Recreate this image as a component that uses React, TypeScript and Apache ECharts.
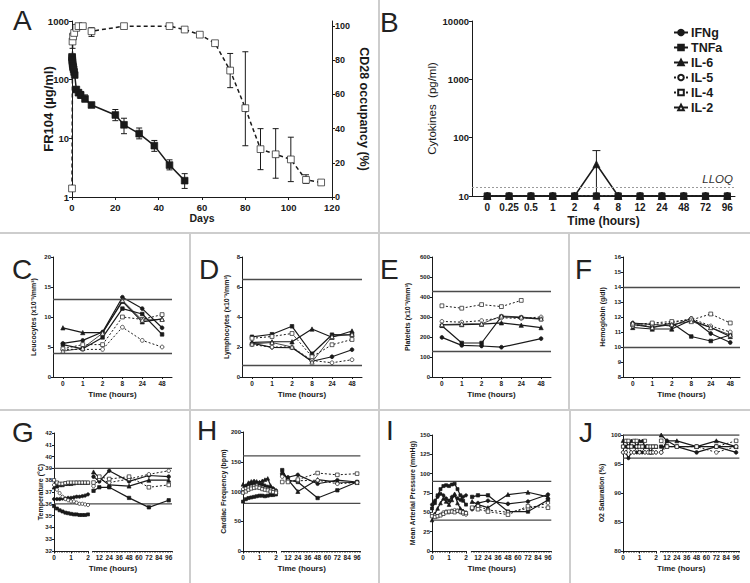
import React, { useEffect, useRef } from 'react';
import * as echarts from 'echarts';

// ---------------- Panel A ----------------
const fr104Days = [0.04, 0.08, 0.13, 0.21, 0.29, 0.42, 0.58, 0.75, 1, 1.25, 2, 3, 4, 6, 9, 20, 24, 31, 38, 45, 52];
const fr104Conc = [245, 235, 215, 200, 185, 170, 160, 150, 135, 120, 68, 60, 55, 47, 37, 25, 17, 12, 7.5, 3.5, 1.9];
const fr104ErrDays = [2, 3, 4, 6, 9, 20, 24, 31, 38, 45, 52];
const fr104ErrLow = [62, 54, 48, 42, 34, 20, 12, 9.8, 6, 2.9, 1.4];
const fr104ErrHigh = [75, 67, 63, 55, 40, 31, 22, 15, 9.2, 4.3, 2.5];

const cd28Days = [0, 0.25, 0.5, 1, 2, 3, 5, 9, 24, 45, 52, 59, 66, 73, 80, 87, 94, 101, 108, 115];
const cd28Occ = [5, 91, 94, 96, 99, 100, 100, 97, 100, 100, 98, 95, 90, 74, 52, 28, 25, 22, 10, 8.5];
const cd28ErrDays = [0.25, 9, 73, 80, 87, 94, 101, 108];
const cd28ErrLow = [87, 94, 64, 30, 16, 11, 9, 8];
const cd28ErrHigh = [95, 99, 84, 85, 40, 40, 35, 13];
const cd28Ticks = [0, 20, 40, 60, 80, 100];

// ---------------- Panel B ----------------
const bTimes = ['0', '0.25', '0.5', '1', '2', '4', '8', '12', '24', '48', '72', '96'];
const bIFNg = [10, 10, 10, 10, 10, 10, 10, 10, 10, 10, 10, 10];
const bTNFa = [10, 10, 10, 10, 10, 10, 10, 10, 10, 10, 10, 10];
const bIL6 = [10, 10, 10, 10, 10, 35, 10, 10, 10, 10, 10, 10];
const bIL5 = [10, 10, 10, 10, 10, 10, 10, 10, 10, 10, 10, 10];
const bIL4 = [10, 10, 10, 10, 10, 10, 10, 10, 10, 10, 10, 10];
const bIL2 = [10, 10, 10, 10, 10, 10, 10, 10, 10, 10, 10, 10];
const bIL6ErrIdx = [5];
const bIL6ErrLow = [10];
const bIL6ErrHigh = [60];
const lloq = 14;
const legendNames = ['IFNg', 'TNFa', 'IL-6', 'IL-5', 'IL-4', 'IL-2'];

// ---------------- Panels C-F ----------------
const cfTimes = ['0', '1', '2', '8', '24', '48'];
const leuco = [
  [5.6, 6.1, 7.5, 13.3, 11.4, 8.2],
  [5.4, 4.7, 6.6, 11.4, 10.5, 7.1],
  [8.2, 7.4, 7.4, 12.6, 9.2, 9.7],
  [4.6, 4.6, 4.6, 8.3, 6.1, 5.0],
  [4.7, 5.4, 5.4, 10.0, 9.6, 10.4],
  [4.3, 4.8, 7.3, 12.8, 9.5, 9.6],
];
const leucoRefs = [13, 4];
const lympho = [
  [2.25, 1.98, 1.95, 1.05, 1.35, 1.82],
  [2.68, 2.85, 3.38, 1.55, 2.82, 2.8],
  [2.3, 2.35, 2.35, 3.2, 2.65, 3.07],
  [2.15, 2.0, 2.0, 1.1, 0.95, 1.15],
  [2.58, 2.7, 2.9, 1.35, 2.15, 2.5],
  [2.2, 2.3, 2.0, 1.0, 2.7, 2.85],
];
const lymphoRefs = [6.5, 0.8];
const platelets = [
  [198, 158, 155, 149, null, 192],
  [256, 170, 170, 302, 297, 289],
  [260, 262, 264, 271, 259, 247],
  [278, 274, 282, 296, 293, 300],
  [356, 344, 362, 352, 383, null],
  [262, 265, 266, 305, 300, 291],
];
const plateletRefs = [430, 130];
const hemoglobin = [
  [11.6, 11.5, 11.4, 11.9, 10.9, 10.3],
  [11.5, 11.3, 11.6, 10.7, 10.4, 10.8],
  [11.3, 11.2, 11.2, 11.8, 11.3, 10.7],
  [11.4, 11.5, 11.6, 11.9, 11.4, 11.0],
  [11.5, 11.6, 11.7, 11.8, 12.2, 11.6],
  [11.6, 11.3, 11.5, 11.7, 11.3, 10.8],
];
const hemoRefs = [14, 10];

// ---------------- Panels G-J ----------------
const earlyTimes = [0, 0.17, 0.33, 0.5, 0.67, 0.83, 1, 1.17, 1.33, 1.5, 1.67, 1.83, 2];
const lateTimes = [5, 12, 24, 48, 72, 96];
const lateTickLabels = [12, 24, 36, 48, 60, 72, 84, 96];

const tempEarly = [
  [36.4, 36.4, 36.4, 36.45, 36.45, 36.5, 36.5, 36.55, 36.6, 36.6, 36.65, 36.7, 36.8],
  [35.8, 35.6, 35.45, 35.35, 35.25, 35.2, 35.15, 35.1, 35.1, 35.05, 35.05, 35.05, 35.1],
  [37.4, 37.5, 37.6, 37.6, 37.7, 37.7, 37.7, 37.75, 37.8, 37.8, 37.8, 37.8, 37.8],
  [37.6, 37.2, 36.9, 36.6, 36.4, 36.3, 36.2, 36.2, 36.1, 36.0, 36.0, 35.95, 35.9],
  [38.0, 37.8, 37.7, 37.7, 37.75, 37.8, 37.8, 37.8, 37.8, 37.8, 37.8, 37.8, 37.8],
];
const tempLate = [
  [38.3, 37.9, 38.8, 37.9, 38.4, 38.3],
  [37.1, 37.4, 37.4, 36.5, 35.7, 36.3],
  [38.7, 38.2, 37.6, 37.5, 38.0, 38.0],
  [37.5, 38.1, 37.8, 38.1, 38.5, 38.8],
  [37.8, 38.3, 38.1, 38.3, 37.4, 37.6],
];
const tempRefs = [39, 36];

const hrEarly = [
  [100, 108, 110, 112, 113, 110, 111, 112, 110, 108, 107, 105, 102],
  [83, 87, 89, 90, 91, 92, 93, 93, 92, 93, 94, 94, 95],
  [112, 110, 115, 117, 118, 117, 116, 118, 120, 122, 110, 105, 100],
  [104, 105, 107, 108, 109, 110, 108, 106, 105, 104, 103, 102, 100],
  [98, 100, 103, 105, 106, 107, 106, 104, 103, 102, 100, 99, 98],
];
const hrLate = [
  [128, 124, 128, 113, 119, 116],
  [136, 119, 116, 89, 102, 116],
  [133, 120, 100, 120, 116, 115],
  [125, 118, 118, 119, 113, 115],
  [116, 116, 120, 131, 128, 130],
];
const hrRefs = [160, 80];

const mapEarly = [
  [60, 65, 70, 74, 72, 68, 65, 70, 72, 68, 66, 70, 72],
  [55, 62, 72, 80, 84, 85, 84, 86, 87, 80, 72, 65, 60],
  [40, 48, 55, 62, 68, 64, 60, 66, 74, 62, 55, 52, 50],
  [48, 46, 45, 47, 50, 51, 50, 52, 53, 52, 50, 48, 47],
  [45, 44, 45, 46, 48, 50, 51, 51, 50, 52, 51, 50, 49],
];
const mapLate = [
  [54, 62, 65, 61, 64, 73],
  [70, 72, 72, 51, 51, 66],
  [64, 60, 56, 73, 76, 70],
  [55, 58, 53, 50, 55, 62],
  [56, 54, 51, 47, 58, 56],
];
const mapRefs = [90, 40];

const o2Early = [
  [97, 97, 96, 97, 97, 97, 97, 97, 97, 97, 97, 97, 97],
  [98, 98, 98, 98, 98, 98, 98, 98, 98, 98, 98, 98, 98],
  [99, 99, 98, 99, 99, 98, 99, 99, 98, 98, 97, 98, 98],
  [97, 97, 98, 97, 97, 98, 97, 98, 97, 97, 97, 97, 97],
  [98, 99, 99, 98, 99, 99, 98, 98, 99, 98, 98, 98, 98],
];
const o2Late = [
  [97, 99, 98, 97, 98, 97],
  [98, 98, 98, 98, 98, 98],
  [100, 99, 99, 98, 99, 98],
  [97, 98, 98, 98, 97, 98],
  [99, 98, 98, 98, 98, 99],
];
const o2Refs = [100, 96];

// ---------------- styling ----------------
const FONT = '"Liberation Sans", Arial, Helvetica, sans-serif';
const INK = '#1a1a1a';
const REF = '#4a4a4a';

const markerStyles: any[] = [
  { symbol: 'circle', fill: INK, dash: 'solid', size: 4.5, lw: 1.2 },
  { symbol: 'rect', fill: INK, dash: 'solid', size: 4.2, lw: 1.2 },
  { symbol: 'triangle', fill: INK, dash: 'solid', size: 5, lw: 1.2 },
  { symbol: 'circle', fill: '#fff', dash: [2, 2], size: 4.5, lw: 1 },
  { symbol: 'rect', fill: '#fff', dash: [2, 2], size: 4.5, lw: 1 },
  { symbol: 'triangle', fill: '#fff', dash: 'solid', size: 5, lw: 0.8 },
];

function lineSeries(name: string, styleIdx: number, data: any[], xi: number, yi: number, scale = 1): any {
  const s = markerStyles[styleIdx];
  return {
    type: 'line', name, xAxisIndex: xi, yAxisIndex: yi, data,
    symbol: s.symbol, symbolSize: s.size * scale, showSymbol: true, showAllSymbol: true,
    connectNulls: true, clip: false,
    lineStyle: { color: INK, width: s.lw, type: s.dash },
    itemStyle: { color: s.fill, borderColor: INK, borderWidth: 0.7 },
    emphasis: { disabled: true }, silent: true, z: 3,
  };
}

function errSeries(xi: number, yi: number, data: number[][], cap: number, bottomCap = true): any {
  return {
    type: 'custom', xAxisIndex: xi, yAxisIndex: yi, data, silent: true, z: 2,
    encode: { x: 0, y: [1, 2] },
    renderItem: (_p: any, api: any) => {
      const x = api.value(0), lo = api.value(1), hi = api.value(2);
      const a = api.coord([x, lo]);
      const b = api.coord([x, hi]);
      const st = { stroke: INK, lineWidth: 1 };
      const children: any[] = [
        { type: 'line', shape: { x1: a[0], y1: a[1], x2: b[0], y2: b[1] }, style: st },
        { type: 'line', shape: { x1: b[0] - cap, y1: b[1], x2: b[0] + cap, y2: b[1] }, style: st },
      ];
      if (bottomCap) children.push({ type: 'line', shape: { x1: a[0] - cap, y1: a[1], x2: a[0] + cap, y2: a[1] }, style: st });
      return { type: 'group', children };
    },
  };
}

const lab = (size: number, margin = 3) => ({ fontFamily: FONT, fontWeight: 'bold', fontSize: size, color: INK, margin });
const nameStyle = (size: number, bold = true) => ({ fontFamily: FONT, fontWeight: bold ? 'bold' : 'normal', fontSize: size, color: INK });
const axisLine = { show: true, onZero: false, lineStyle: { color: INK, width: 1 } };
const tick = (len: number) => ({ show: true, length: len, lineStyle: { color: INK, width: 1 } });
const plainNum = (v: number) => String(v);

function range(a: number, b: number, step: number) {
  const r: number[] = [];
  for (let v = a; v <= b + 1e-9; v += step) r.push(+v.toFixed(4));
  return r;
}

function buildOption() {
  const grid: any[] = [];
  const xAxis: any[] = [];
  const yAxis: any[] = [];
  const series: any[] = [];
  const graphic: any[] = [];
  const addGrid = (g: any) => { grid.push(g); return grid.length - 1; };
  const addX = (a: any) => { xAxis.push({ splitLine: { show: false }, nameMoveOverlap: false, ...a }); return xAxis.length - 1; };
  const addY = (a: any) => { yAxis.push({ splitLine: { show: false }, nameMoveOverlap: false, ...a }); return yAxis.length - 1; };

  // ---------- A ----------
  const gA = addGrid({ left: 72, top: 21, width: 260, height: 176 });
  const xA = addX({
    type: 'value', gridIndex: gA, min: 0, max: 120, interval: 20, axisLine, axisTick: tick(3),
    axisLabel: lab(9.5, 5), name: 'Days', nameLocation: 'middle', nameGap: 15, nameTextStyle: nameStyle(10.5),
  });
  const yAL = addY({
    type: 'log', logBase: 10, gridIndex: gA, min: 1, max: 1000, axisLine, axisTick: tick(3),
    axisLabel: { ...lab(9.5), formatter: plainNum }, name: 'FR104 (µg/ml)', nameLocation: 'middle', nameGap: 17.5, nameTextStyle: nameStyle(13),
  });
  const yAR = addY({
    type: 'value', gridIndex: gA, position: 'right', min: 0, max: 103, axisLine,
    axisTick: { ...tick(3), customValues: cd28Ticks },
    axisLabel: { ...lab(9), customValues: cd28Ticks },
    name: 'CD28 occupancy (%)', nameLocation: 'middle', nameRotate: -90, nameGap: 25, nameTextStyle: nameStyle(12.5),
  });
  series.push(errSeries(xA, yAL, fr104ErrDays.map((d, i) => [d, fr104ErrLow[i], fr104ErrHigh[i]]), 3));
  series.push(errSeries(xA, yAR, cd28ErrDays.map((d, i) => [d, cd28ErrLow[i], cd28ErrHigh[i]]), 3));
  series.push({
    ...lineSeries('A-FR104', 1, fr104Days.map((d, i) => [d, fr104Conc[i]]), xA, yAL, 1.6),
    lineStyle: { color: INK, width: 1.5 },
  });
  series.push({
    ...lineSeries('A-CD28', 4, cd28Days.map((d, i) => [d, cd28Occ[i]]), xA, yAR, 1.5),
    lineStyle: { color: INK, width: 1.5, type: [4, 3] },
  });

  // ---------- B ----------
  const gB = addGrid({ left: 472, top: 21, width: 263, height: 175 });
  const xB = addX({
    type: 'value', gridIndex: gB, min: -0.7, max: 11.35, axisLine, axisTick: { show: false },
    axisLabel: { ...lab(10, 6), customValues: bTimes.map((_, i) => i), formatter: (v: number) => bTimes[Math.round(v)] ?? '' },
    name: 'Time (hours)', nameLocation: 'middle', nameGap: 19, nameTextStyle: nameStyle(12),
  });
  const yB = addY({
    type: 'log', logBase: 10, gridIndex: gB, min: 10, max: 10000, axisLine, axisTick: tick(3),
    axisLabel: { ...lab(9.5), formatter: plainNum }, name: 'Cytokines  (pg/ml)', nameLocation: 'middle', nameGap: 34, nameTextStyle: nameStyle(11.5, false),
  });
  const bData: [string, number[], number][] = [
    ['IL-2', bIL2, 5], ['IL-5', bIL5, 3], ['IL-4', bIL4, 4], ['IFNg', bIFNg, 0], ['IL-6', bIL6, 2], ['TNFa', bTNFa, 1],
  ];
  series.push(errSeries(xB, yB, bIL6ErrIdx.map((d, i) => [d, bIL6ErrLow[i], bIL6ErrHigh[i]]), 4, false));
  bData.forEach(([name, vals, st]) => {
    const s = lineSeries(name, st, vals.map((v, i) => [i, v]), xB, yB, 1.4);
    if (name === 'IL-6') s.lineStyle.width = 1.5;
    if (name === 'TNFa') {
      s.markLine = {
        symbol: 'none', silent: true, data: [{ yAxis: lloq }],
        lineStyle: { color: '#9a9a9a', type: [2, 2], width: 1 },
        label: { show: true, position: 'insideEndTop', formatter: 'LLOQ', fontStyle: 'italic', fontFamily: FONT, fontSize: 11.5, color: '#333', distance: 2 },
      };
    }
    series.push(s);
  });

  // ---------- C-F ----------
  const cfPanels: any[] = [
    { g: { left: 53, top: 257, width: 119, height: 120 }, min: 0, max: 20, interval: 5, name: 'Leucocytes (x10⁻³/mm³)', nameGap: 16, refs: leucoRefs, data: leuco },
    { g: { left: 242, top: 257, width: 120, height: 120 }, min: 0, max: 8, interval: 2, name: 'Lymphocytes (x10⁻³/mm³)', nameGap: 12.5, refs: lymphoRefs, data: lympho },
    { g: { left: 432, top: 257, width: 119, height: 120 }, min: 0, max: 600, interval: 100, name: 'Platelets (x10⁻³/mm³)', nameGap: 21, refs: plateletRefs, data: platelets },
    { g: { left: 623, top: 257, width: 117, height: 120 }, min: 8, max: 16, interval: 1, name: 'Hemoglobin (g/dl)', nameGap: 17, refs: hemoRefs, data: hemoglobin },
  ];
  cfPanels.forEach((p, pi) => {
    const gi = addGrid(p.g);
    const xi = addX({
      type: 'category', gridIndex: gi, data: cfTimes, boundaryGap: true, axisLine,
      axisTick: { ...tick(2), alignWithLabel: true }, axisLabel: lab(6.5, 3),
      name: 'Time (hours)', nameLocation: 'middle', nameGap: 13, nameTextStyle: nameStyle(8),
    });
    const yi = addY({
      type: 'value', gridIndex: gi, min: p.min, max: p.max, interval: p.interval, axisLine, axisTick: tick(2),
      axisLabel: lab(6, 2), name: p.name, nameLocation: 'middle', nameGap: p.nameGap, nameTextStyle: nameStyle(7),
    });
    p.data.forEach((arr: any[], si: number) => {
      const s = lineSeries(`P${pi}-S${si}`, si, arr, xi, yi, 0.85);
      if (si === 0) {
        s.markLine = {
          symbol: 'none', silent: true, label: { show: false },
          lineStyle: { color: REF, width: 1.3, type: 'solid' },
          data: p.refs.map((v: number) => ({ yAxis: v })),
        };
      }
      series.push(s);
    });
  });

  // ---------- G-J ----------
  const row3: any[] = [
    { l: 54, top: 433, h: 118, w1: 34, l2: 92.7, w2: 79.3, min: 32, max: 42, interval: 1, name: 'Temperature (°C)', nameGap: 10, refs: tempRefs, early: tempEarly, late: tempLate },
    { l: 243, top: 432, h: 119, w1: 33, l2: 281.4, w2: 79, min: 0, max: 200, interval: 50, name: 'Cardiac Frequency (bpm)', nameGap: 16, refs: hrRefs, early: hrEarly, late: hrLate },
    { l: 432, top: 435, h: 116, w1: 34, l2: 471.3, w2: 80, min: 0, max: 150, interval: 25, name: 'Mean Arterial Pressure (mmHg)', nameGap: 16, refs: mapRefs, early: mapEarly, late: mapLate },
    { l: 623, top: 435, h: 116, w1: 33, l2: 660.4, w2: 79, min: 80, max: 100, interval: 5, name: 'O2 Saturation (%)', nameGap: 18, refs: o2Refs, early: o2Early, late: o2Late },
  ];
  row3.forEach((p, pi) => {
    const g1 = addGrid({ left: p.l, top: p.top, width: p.w1, height: p.h });
    const g2 = addGrid({ left: p.l2, top: p.top, width: p.w2, height: p.h });
    const ov = addGrid({ left: p.l, top: p.top, width: p.l2 + p.w2 - p.l, height: p.h });
    const x1 = addX({
      type: 'value', gridIndex: g1, min: 0, max: 2, interval: 1, axisLine, axisTick: tick(2.5),
      minorTick: { show: true, splitNumber: 10, length: 1.5, lineStyle: { color: INK, width: 0.8 } },
      axisLabel: lab(6.5, 3),
    });
    const y1 = addY({
      type: 'value', gridIndex: g1, min: p.min, max: p.max, interval: p.interval, axisLine, axisTick: tick(2),
      axisLabel: lab(6, 2), name: p.name, nameLocation: 'middle', nameGap: p.nameGap, nameTextStyle: nameStyle(7),
    });
    const x2 = addX({
      type: 'value', gridIndex: g2, min: 4, max: 100, axisLine,
      axisTick: { show: true, length: 1.5, lineStyle: { color: INK, width: 0.8 }, customValues: range(4, 100, 2) },
      axisLabel: { ...lab(6.5, 3), customValues: lateTickLabels },
    });
    const y2 = addY({ type: 'value', gridIndex: g2, min: p.min, max: p.max, show: false });
    const xo = addX({ type: 'value', gridIndex: ov, min: 0, max: 1, show: false });
    const yo = addY({ type: 'value', gridIndex: ov, min: p.min, max: p.max, show: false });
    p.refs.forEach((v: number, ri: number) => {
      series.push({
        type: 'line', name: `R${pi}-${ri}`, xAxisIndex: xo, yAxisIndex: yo, data: [[0, v], [1, v]],
        symbol: 'none', silent: true, z: 1, lineStyle: { color: REF, width: 1.3 },
      });
    });
    p.early.forEach((arr: number[], si: number) => {
      series.push(lineSeries(`E${pi}-${si}`, si, earlyTimes.map((t, i) => [t, arr[i]]), x1, y1, 0.72));
    });
    p.late.forEach((arr: number[], si: number) => {
      series.push(lineSeries(`L${pi}-${si}`, si, lateTimes.map((t, i) => [t, arr[i]]), x2, y2, 0.8));
    });
    graphic.push({
      type: 'text', x: (p.l + p.l2 + p.w2) / 2, y: 568, silent: true,
      style: { text: 'Time (hours)', fontFamily: FONT, fontWeight: 'bold', fontSize: 8, fill: INK, align: 'center', verticalAlign: 'middle' },
    });
  });

  // ---------- separators ----------
  const sep = (x1: number, y1: number, x2: number, y2: number) => graphic.push({
    type: 'line', silent: true, shape: { x1, y1, x2, y2 }, style: { stroke: '#cdcdcd', lineWidth: 2 },
  });
  sep(379, 0, 379, 233);
  sep(0, 233, 750, 233);
  sep(190, 233, 190, 410);
  sep(379, 233, 379, 410);
  sep(569, 233, 569, 410);
  sep(0, 410, 750, 410);
  sep(190, 410, 190, 583);
  sep(379, 410, 379, 583);
  sep(570, 410, 570, 583);

  // ---------- panel letters ----------
  const letters: [string, number, number][] = [
    ['A', 13, 34], ['B', 380, 36], ['C', 12, 283], ['D', 199, 283], ['E', 380, 283], ['F', 575, 283],
    ['G', 12, 446], ['H', 197, 444], ['I', 386, 444], ['J', 579, 446],
  ];
  letters.forEach(([t, x, y]) => graphic.push({
    type: 'text', x, y, silent: true,
    style: { text: t, fontFamily: FONT, fontSize: 28, fill: '#222', verticalAlign: 'bottom' },
  }));

  return {
    animation: false,
    backgroundColor: '#fff',
    grid, xAxis, yAxis, series, graphic,
    legend: {
      data: legendNames, left: 668, top: 21, orient: 'vertical', selectedMode: false,
      itemWidth: 14, itemHeight: 7, itemGap: 2,
      textStyle: { fontFamily: FONT, fontWeight: 'bold', fontSize: 12.5, color: INK, padding: [0, 0, 0, -2], lineHeight: 13 },
    },
  };
}

export default function App() {
  const ref = useRef<HTMLDivElement>(null);
  useEffect(() => {
    const chart = echarts.init(ref.current!, undefined, { renderer: 'svg' });
    chart.setOption(buildOption() as any);
    return () => chart.dispose();
  }, []);
  return (
    <div
      ref={ref}
      style={{ position: 'absolute', left: 0, top: 0, width: 750, height: 583, background: '#fff' }}
    />
  );
}
